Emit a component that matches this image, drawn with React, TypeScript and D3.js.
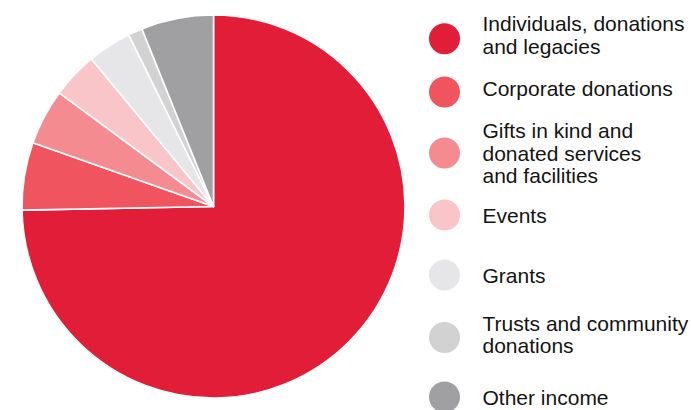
import * as d3 from 'd3';

const W = 691;
const H = 410;

// income share by source, percent
const categories = [
  'Individuals, donations and legacies',
  'Corporate donations',
  'Gifts in kind and donated services and facilities',
  'Events',
  'Grants',
  'Trusts and community donations',
  'Other income',
];
const shares = [74.7, 5.7, 4.7, 3.9, 3.7, 1.2, 6.1];
const colors = ['#e11d38', '#f0555f', '#f48b90', '#f9c5c8', '#e6e6e8', '#d2d2d3', '#a0a0a2'];
// legend lines as they wrap in the reference
const legendLines = [
  ['Individuals, donations', 'and legacies'],
  ['Corporate donations'],
  ['Gifts in kind and', 'donated services', 'and facilities'],
  ['Events'],
  ['Grants'],
  ['Trusts and community', 'donations'],
  ['Other income'],
];
const legendY = [38.7, 92, 153, 215, 275, 337.5, 397];
// text sits a little off the swatch centre on some rows
const textNudge = [-4, -4, 0, 0, 0, -3, 0];

export default function App() {
  const cx = 213.5;
  const cy = 206.5;
  const r = 191.5;

  const pie = d3
    .pie<number>()
    .sort(null)
    .value((d) => d)
    .startAngle(0)
    .endAngle(2 * Math.PI);
  const arcs = pie(shares);
  const arc = d3.arc<d3.PieArcDatum<number>>().innerRadius(0).outerRadius(r);

  const fs = 21;
  const lh = 22.6;
  const cap = fs * 0.716;

  return (
    <svg
      width={W}
      height={H}
      style={{ position: 'absolute', left: 0, top: 0, background: '#fff' }}
      fontFamily="'Liberation Sans', Arial, Helvetica, sans-serif"
    >
      <g transform={`translate(${cx},${cy})`}>
        {arcs.map((a, i) => (
          <path
            key={categories[i]}
            d={arc(a) ?? ''}
            fill={colors[i]}
            stroke="#fff"
            strokeWidth={1.6}
            strokeLinejoin="round"
          />
        ))}
      </g>
      <g>
        {categories.map((c, i) => {
          const y = legendY[i];
          const lines = legendLines[i];
          const first = y - ((lines.length - 1) * lh) / 2 + cap / 2 + textNudge[i];
          return (
            <g key={c}>
              <circle cx={444.5} cy={y} r={15.5} fill={colors[i]} />
              <text x={482.5} fontSize={fs} fill="#141414">
                {lines.map((l, j) => (
                  <tspan key={j} x={482.5} y={first + j * lh}>
                    {l}
                  </tspan>
                ))}
              </text>
            </g>
          );
        })}
      </g>
    </svg>
  );
}
